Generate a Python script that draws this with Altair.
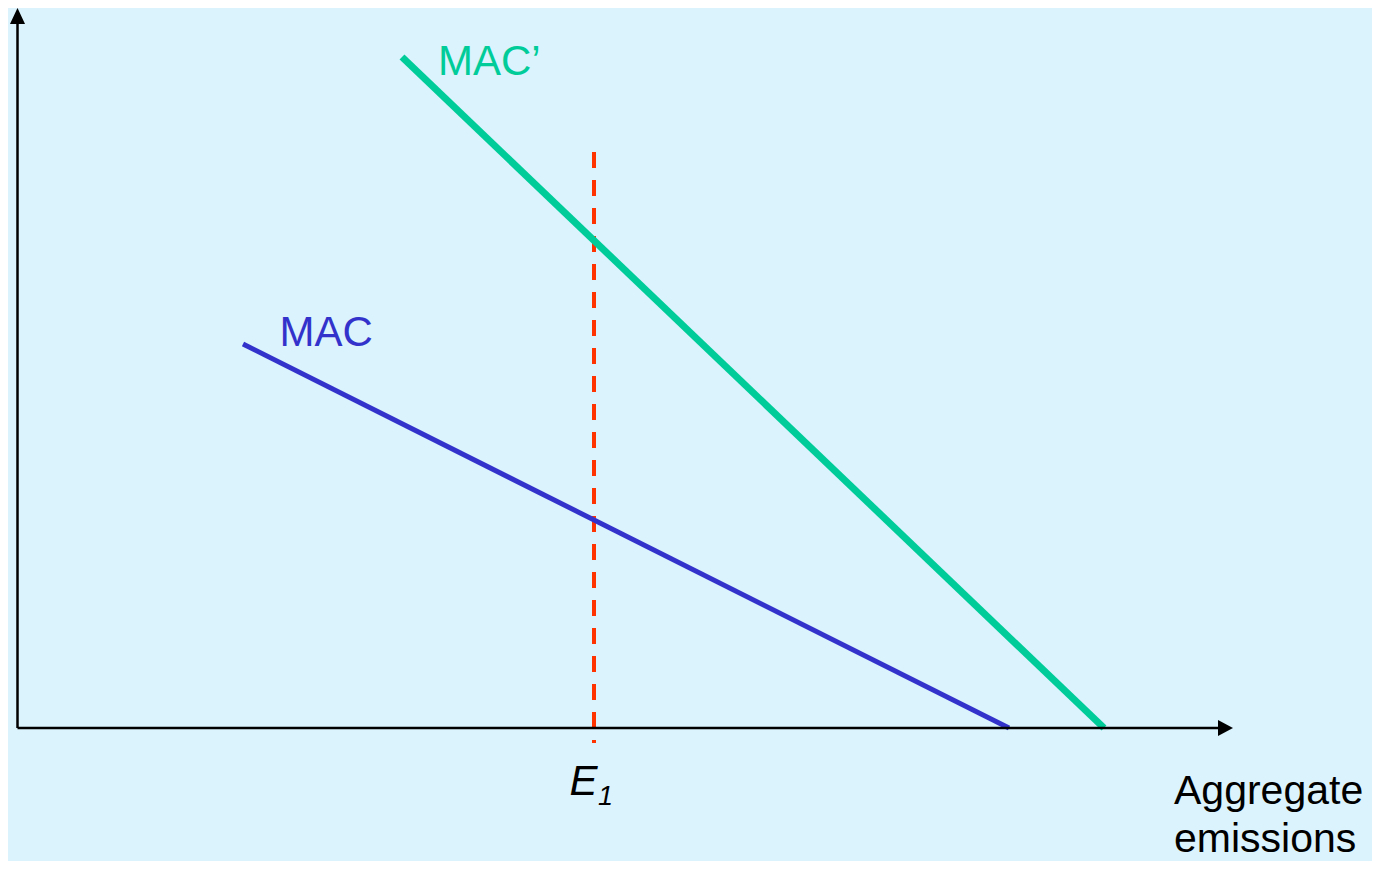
import altair as alt
import pandas as pd

# Schematic coordinates (abstract units)
mac_x = [22.55, 99.15]
mac_y = [38.4, 0.0]
macp_x = [38.45, 108.65]
macp_y = [67.1, 0.0]
e1_x = 57.65
e1_y_top = 57.6
e1_y_bottom = -1.5
x_axis_end = 120.1
y_axis_end = 70.4
arrow_up = (0.0, 71.2)
arrow_right = (120.8, 0.0)

curve_labels = ["MAC", "MAC\u2019"]
curve_label_x = [26.2, 42.05]
curve_label_y = [38.2, 65.3]
curve_label_colors = ["#3333CC", "#00CC99"]

axis_title = ["Aggregate", "emissions"]
axis_title_x = [115.65, 115.65]
axis_title_y = [-7.6, -12.4]

BG = "#DBF3FC"
FONT = "Liberation Sans"

xs = alt.Scale(domain=[-0.95, 135.45], nice=False, zero=False)
ys = alt.Scale(domain=[-13.3, 72.0], nice=False, zero=False)

def X(f="x"):
    return alt.X(f"{f}:Q", scale=xs, axis=None)

def Y(f="y"):
    return alt.Y(f"{f}:Q", scale=ys, axis=None)

mac_df = pd.DataFrame({"x": mac_x, "y": mac_y})
macp_df = pd.DataFrame({"x": macp_x, "y": macp_y})
e1_df = pd.DataFrame({"x": [e1_x], "y": [e1_y_top], "y2": [e1_y_bottom]})
xaxis_df = pd.DataFrame({"x": [0.0], "x2": [x_axis_end], "y": [0.0]})
yaxis_df = pd.DataFrame({"x": [0.0], "y": [0.0], "y2": [y_axis_end]})
up_df = pd.DataFrame({"x": [arrow_up[0]], "y": [arrow_up[1]]})
right_df = pd.DataFrame({"x": [arrow_right[0]], "y": [arrow_right[1]]})
lab_df = pd.DataFrame({"label": curve_labels, "x": curve_label_x,
                       "y": curve_label_y, "c": curve_label_colors})
title_df = pd.DataFrame({"label": axis_title, "x": axis_title_x, "y": axis_title_y})
e_df = pd.DataFrame({"label": ["E"], "x": [55.2], "y": [-6.7]})
sub_df = pd.DataFrame({"label": ["1"], "x": [58.05], "y": [-7.7]})

xaxis = alt.Chart(xaxis_df).mark_rule(color="black", strokeWidth=2.5).encode(
    x=X(), x2="x2:Q", y=Y())
yaxis = alt.Chart(yaxis_df).mark_rule(color="black", strokeWidth=2.5).encode(
    x=X(), y=Y(), y2="y2:Q")
up = alt.Chart(up_df).mark_point(
    shape="M0,-1L0.94,1L-0.94,1Z", size=256, filled=True, color="black",
    opacity=1, strokeWidth=0).encode(x=X(), y=Y())
right = alt.Chart(right_df).mark_point(
    shape="M1,0L-1,1.07L-1,-1.07Z", size=225, filled=True, color="black",
    opacity=1, strokeWidth=0).encode(x=X(), y=Y())

e1 = alt.Chart(e1_df).mark_rule(color="#FF3300", strokeWidth=4,
                               strokeDash=[16, 12]).encode(
    x=X(), y=Y(), y2="y2:Q")
mac = alt.Chart(mac_df).mark_line(color="#3333CC", strokeWidth=5,
                                  strokeCap="butt").encode(
    x=X(), y=Y(), order="x:Q")
macp = alt.Chart(macp_df).mark_line(color="#00CC99", strokeWidth=7,
                                    strokeCap="butt").encode(
    x=X(), y=Y(), order="x:Q")

texts = alt.Chart(lab_df).mark_text(
    align="left", baseline="alphabetic", font=FONT, fontSize=42).encode(
    x=X(), y=Y(), text="label:N", color=alt.Color("c:N", scale=None))
title_text = alt.Chart(title_df).mark_text(
    align="left", baseline="alphabetic", font=FONT, fontSize=41,
    color="black").encode(x=X(), y=Y(), text="label:N")
e_text = alt.Chart(e_df).mark_text(
    align="left", baseline="alphabetic", font=FONT, fontSize=42,
    fontStyle="italic", color="black").encode(x=X(), y=Y(), text="label:N")
sub_text = alt.Chart(sub_df).mark_text(
    align="left", baseline="alphabetic", font=FONT, fontSize=27,
    fontStyle="italic", color="black").encode(x=X(), y=Y(), text="label:N")

chart = alt.layer(
    e1, mac, macp, xaxis, yaxis, up, right, texts, title_text, e_text, sub_text
).properties(
    width=1364, height=853, background=BG, padding=0,
    autosize=alt.AutoSizeParams(type="none")
).configure_view(stroke=None, fill=BG)

chart.save("out.html", embed_options={"renderer": "svg", "actions": False})
